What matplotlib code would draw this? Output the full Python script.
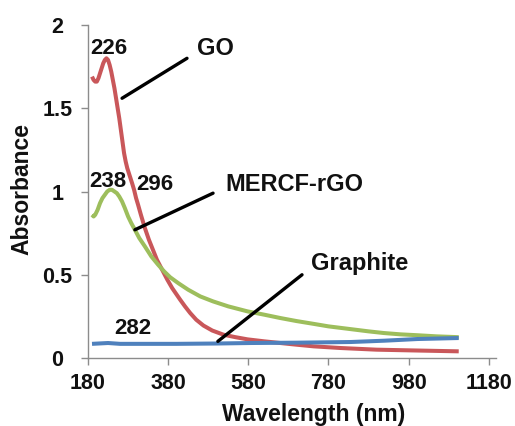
import matplotlib
matplotlib.use('Agg')
import matplotlib.pyplot as plt

plt.rcParams['font.family'] = ['Liberation Sans', 'DejaVu Sans']
plt.rcParams['font.weight'] = 'bold'
plt.rcParams['font.size'] = 15.5

# GO spectrum
go_x = [190, 194, 198, 202, 206, 210, 214, 218, 222, 226, 230, 234, 238, 242, 246, 250,
        254, 258, 262, 266, 270, 274, 278, 282, 286, 290, 295, 300, 305, 312, 322, 332,
        342, 352, 365, 378, 390, 400, 410, 422, 435, 450, 468, 490, 518, 548, 578, 620,
        660, 700, 743, 810, 900, 1000, 1105]
go_y = [1.69, 1.67, 1.66, 1.66, 1.68, 1.71, 1.74, 1.77, 1.79, 1.80, 1.79, 1.76, 1.72, 1.67, 1.62, 1.56,
        1.50, 1.44, 1.37, 1.30, 1.23, 1.18, 1.14, 1.11, 1.08, 1.05, 1.01, 0.96, 0.92, 0.86, 0.78, 0.71,
        0.65, 0.59, 0.53, 0.47, 0.42, 0.385, 0.35, 0.31, 0.27, 0.23, 0.195, 0.165, 0.14, 0.125, 0.112, 0.10,
        0.09, 0.08, 0.07, 0.06, 0.05, 0.045, 0.04]

# MERCF-rGO spectrum
rgo_x = [190, 194, 198, 204, 210, 216, 222, 228, 234, 240, 246, 252, 258, 265, 272, 280,
         288, 297, 308, 322, 338, 355, 370, 385, 405, 430, 460, 492, 530, 578, 620, 660,
         700, 743, 780, 830, 880, 918, 960, 1000, 1050, 1105]
rgo_y = [0.86, 0.85, 0.86, 0.89, 0.93, 0.96, 0.98, 1.00, 1.01, 1.01, 1.00, 0.99, 0.97, 0.94, 0.90, 0.85,
         0.81, 0.77, 0.72, 0.67, 0.61, 0.56, 0.52, 0.485, 0.45, 0.41, 0.37, 0.34, 0.31, 0.28, 0.26, 0.24,
         0.222, 0.205, 0.19, 0.175, 0.16, 0.15, 0.142, 0.137, 0.13, 0.125]

# Graphite spectrum
gr_x = [190, 230, 260, 300, 400, 500, 585, 700, 835, 920, 1002, 1105]
gr_y = [0.085, 0.09, 0.085, 0.085, 0.085, 0.087, 0.09, 0.092, 0.096, 0.104, 0.114, 0.12]

fig = plt.figure(figsize=(5.15, 4.26), dpi=100)
ax = fig.add_axes([88 / 515, 1 - 358 / 426, 408 / 515, 333 / 426])

ax.plot(go_x, go_y, color='#C9575A', lw=2.9, solid_capstyle='butt')
ax.plot(rgo_x, rgo_y, color='#9DBE5C', lw=2.9, solid_capstyle='butt')
ax.plot(gr_x, gr_y, color='#4F81BD', lw=2.9, solid_capstyle='butt')

ax.set_xlim(180, 1198)
ax.set_ylim(0, 2)
ax.set_xticks([180, 380, 580, 780, 980, 1180])
ax.set_yticks([0, 0.5, 1, 1.5, 2])
ax.set_yticklabels(['0', '0.5', '1', '1.5', '2'], ha='center')

for s in ['top', 'right']:
    ax.spines[s].set_visible(False)
for s in ['left', 'bottom']:
    ax.spines[s].set_color('#8c8c8c')
    ax.spines[s].set_linewidth(1.0)
ax.tick_params(axis='both', color='#8c8c8c', length=5, width=1, labelcolor='#111111')
ax.tick_params(axis='y', pad=17)
ax.tick_params(axis='x', pad=6)

# leader lines
arr = dict(arrowstyle='-', color='black', lw=2.4, shrinkA=0, shrinkB=0)
ax.annotate('', xy=(265, 1.56), xytext=(427, 1.80), arrowprops=arr)
ax.annotate('', xy=(297, 0.77), xytext=(492, 0.99), arrowprops=arr)
ax.annotate('', xy=(504, 0.10), xytext=(714, 0.50), arrowprops=arr)

# labels
num = dict(ha='center', va='center', fontsize=16, fontweight='bold', color='#111111')
word = dict(ha='center', va='center', fontsize=17, fontweight='bold', color='#111111')
ax.text(232, 1.86, '226', **num)
ax.text(497, 1.86, 'GO', **word)
ax.text(230, 1.06, '238', **num)
ax.text(347, 1.04, '296', **num)
ax.text(696, 1.04, 'MERCF-rGO', **word)
ax.text(858, 0.57, 'Graphite', **word)
ax.text(292, 0.18, '282', **num)

fig.text(314 / 515, 1 - 414 / 426, 'Wavelength (nm)', ha='center', va='center',
         fontsize=16.5, fontweight='bold', color='#111111')
fig.text(22 / 515, 1 - 189 / 426, 'Absorbance', ha='center', va='center', rotation=90,
         fontsize=16.5, fontweight='bold', color='#111111')

fig.savefig('out.png', dpi=100)
